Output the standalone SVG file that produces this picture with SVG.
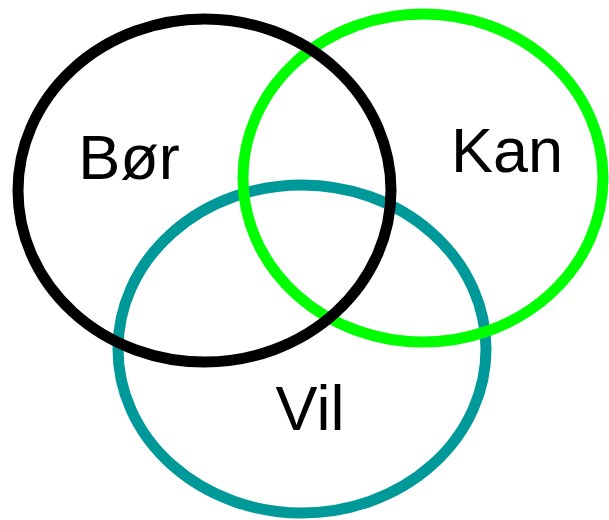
<svg xmlns="http://www.w3.org/2000/svg" width="609" height="520" viewBox="0 0 609 520">
<style>
.set{fill:none;stroke-width:11}
.lbl{font-family:"Liberation Sans",Arial,sans-serif;font-size:63px;fill:#000;text-anchor:middle}
</style>
<rect width="609" height="520" fill="#fff"/>
<g id="vil">
<ellipse class="set" cx="302" cy="349" rx="184" ry="164" stroke="#009999"/>
</g>
<g id="kan">
<ellipse class="set" cx="423" cy="178" rx="180" ry="164" stroke="#00ff00"/>
</g>
<g id="bor">
<ellipse class="set" cx="204.5" cy="190.5" rx="186.5" ry="171.5" stroke="#000" stroke-width="12"/>
</g>
<g id="labels">
<text class="lbl" x="129" y="179">Bør</text>
<text class="lbl" x="507" y="172">Kan</text>
<text class="lbl" x="310" y="430">Vil</text>
</g>
</svg>
